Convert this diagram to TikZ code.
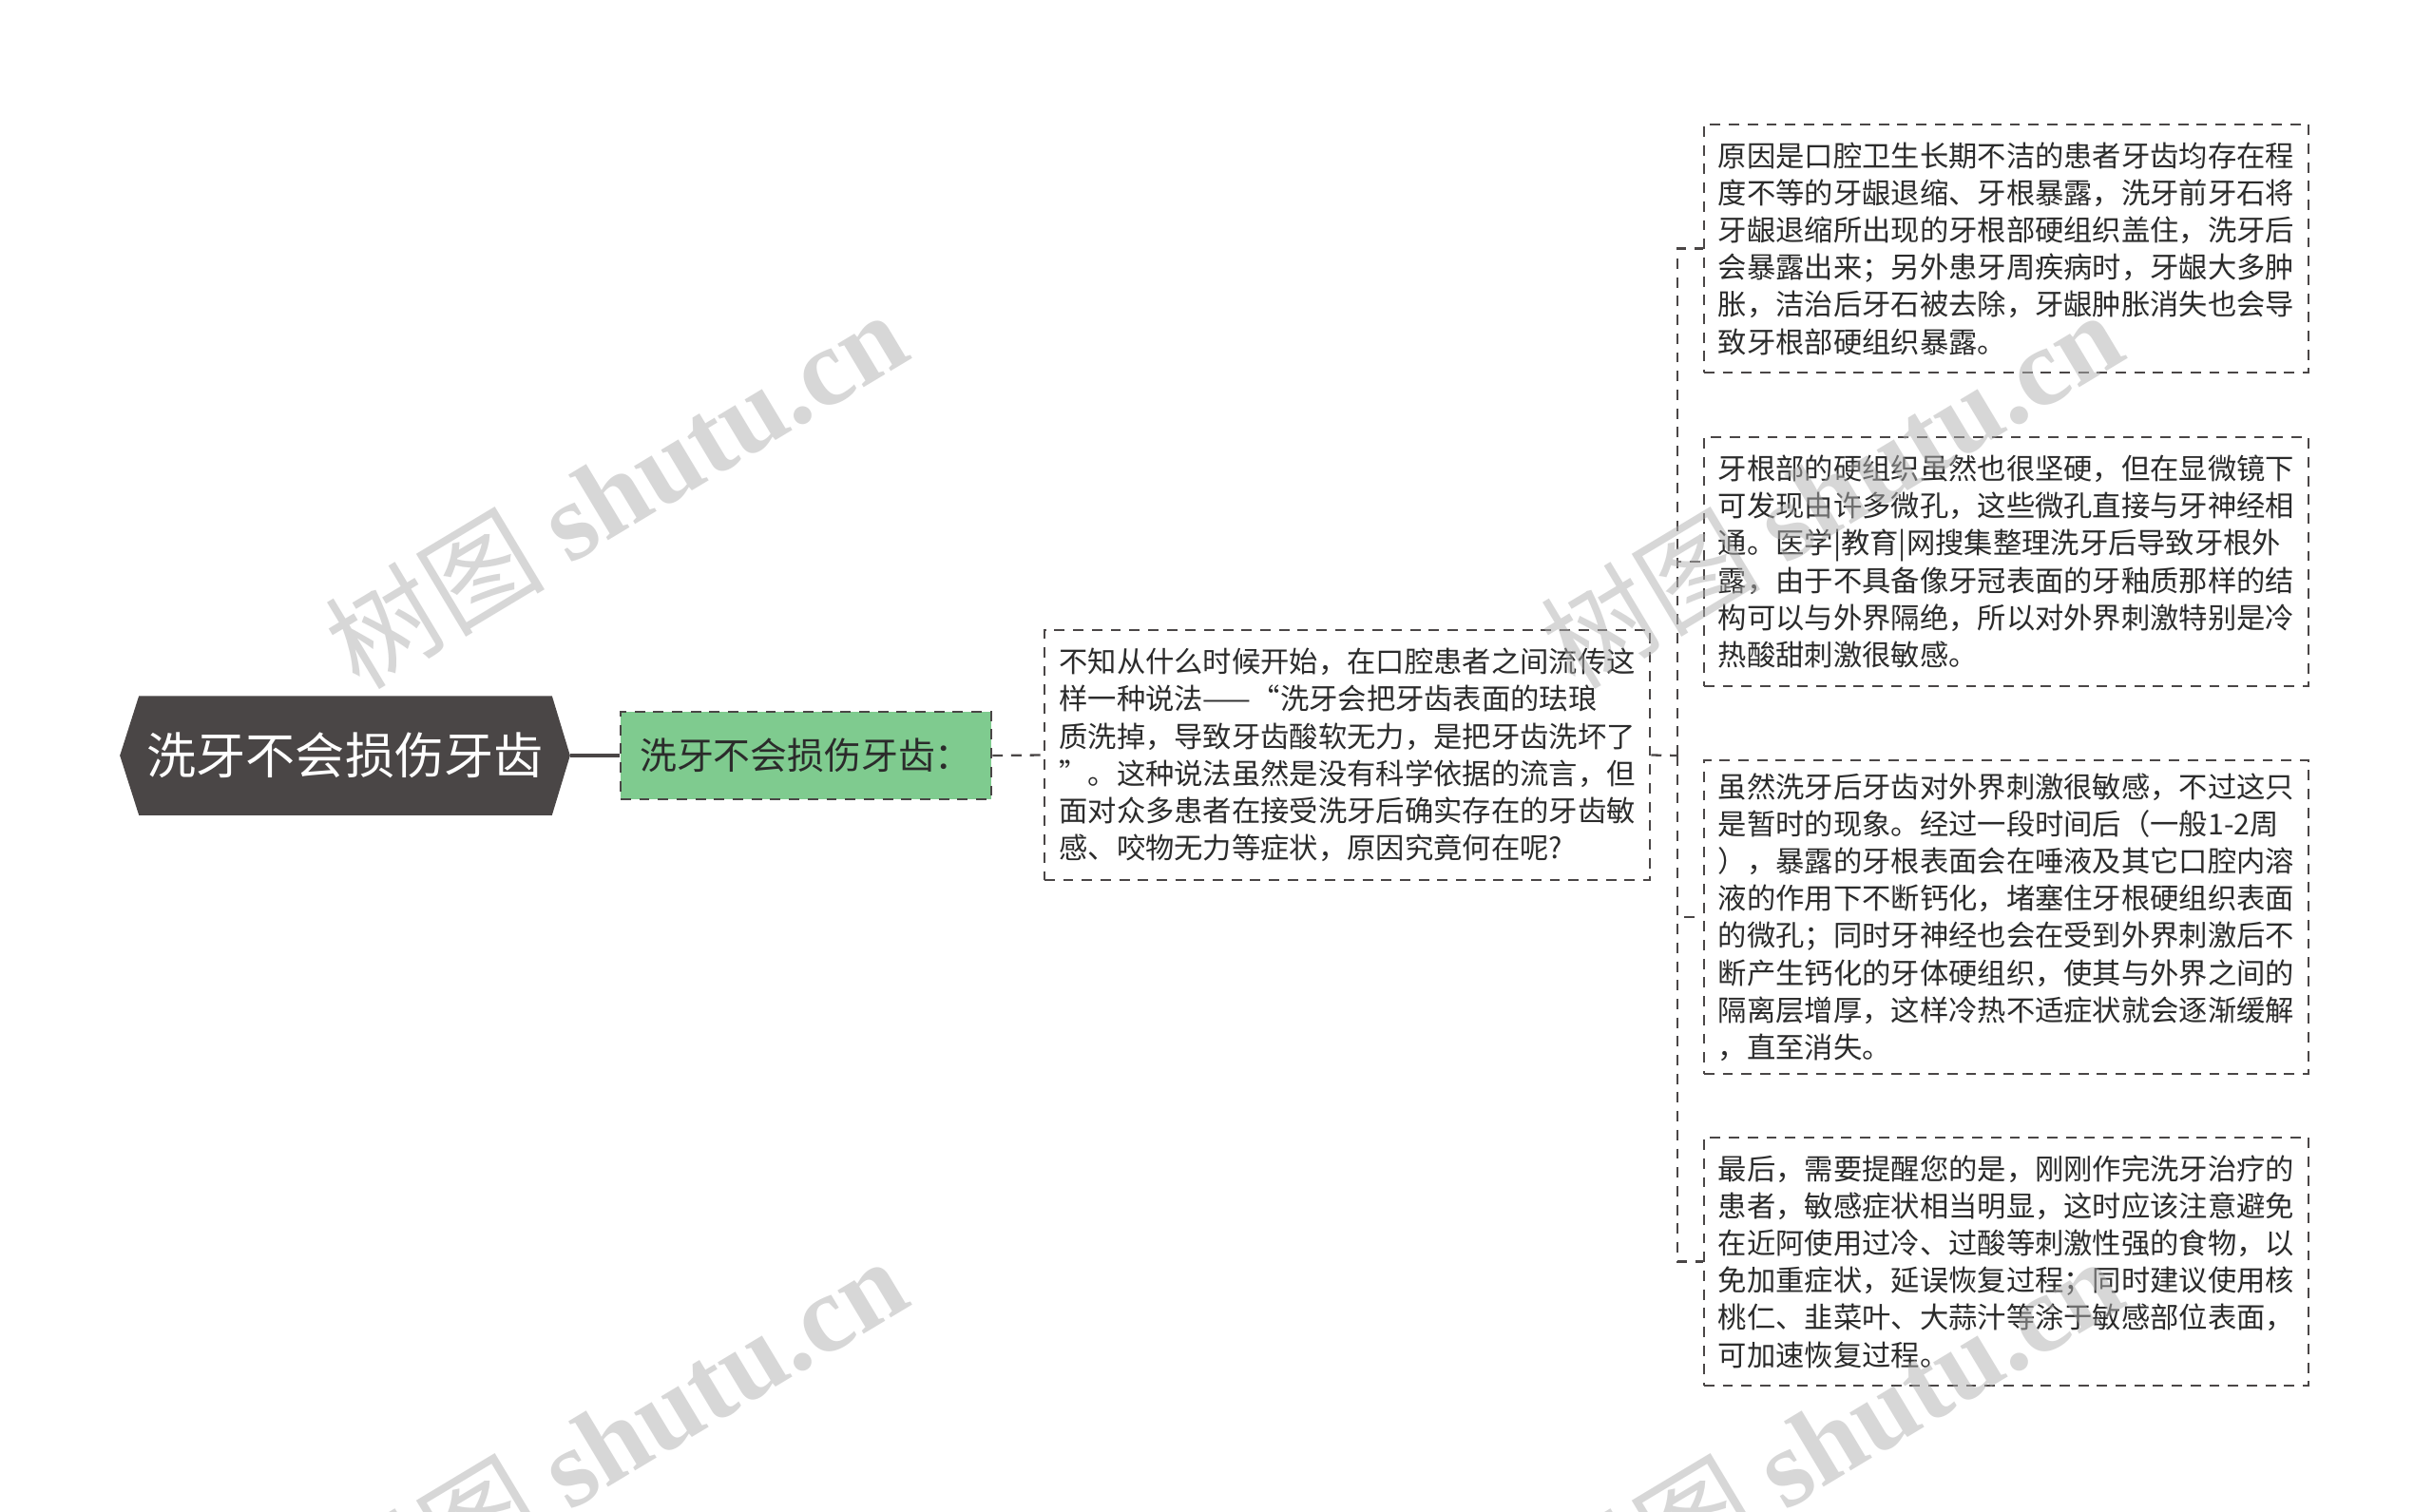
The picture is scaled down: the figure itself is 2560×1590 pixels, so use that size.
\documentclass[tikz,border=0pt]{standalone}
\usepackage{fontspec}
\setmainfont{Noto Sans CJK SC}
\newfontfamily\wmserif{Liberation Serif}
\usetikzlibrary{calc}
\definecolor{rootfill}{HTML}{4A4646}
\definecolor{greenfill}{HTML}{7FCB8F}
\definecolor{linecol}{HTML}{4A4646}
\definecolor{txtcol}{HTML}{2B2B2B}
\definecolor{wmcol}{HTML}{B0B0B0}
\tikzset{
  conn/.style={draw=linecol, line width=0.9pt},
  dconn/.style={draw=linecol, line width=0.65pt, dash pattern=on 3.1pt off 2.5pt},
  textbox/.style={draw=linecol, line width=0.65pt, dash pattern=on 3.1pt off 2.5pt,
    fill=white, inner sep=0pt, text=txtcol, align=left,
    font={\fontsize{8.62}{11.15}\selectfont}},
  greenbox/.style={draw=linecol, line width=0.65pt, dash pattern=on 3.1pt off 2.5pt,
    fill=greenfill, inner sep=0pt, text=txtcol,
    minimum width=3.90cm, minimum height=0.92cm,
    font={\fontsize{11.04}{13}\selectfont}},
  rootbox/.style={inner sep=0pt, text=white, minimum width=4.72cm, minimum height=1.24cm,
    font={\fontsize{14.8}{17}\selectfont}},
  wm/.style={text=wmcol, opacity=0.5, font={\fontsize{33}{36}\selectfont}, inner sep=0pt}
}
\begin{document}
\begin{tikzpicture}[x=0.01cm,y=-0.01cm]
\path[use as bounding box, fill=white] (0,0) rectangle (2560,1590);

% root
\node[rootbox] (root) at (363,795) {洗牙不会损伤牙齿};
\fill[rootfill] (root.west) -- ($(root.north west)+(20,0)$) -- ($(root.north east)+(-19,0)$)
  -- (root.east) -- ($(root.south east)+(-19,0)$) -- ($(root.south west)+(20,0)$) -- cycle;
\node[rootbox] at (root.center) {洗牙不会损伤牙齿};

% level 1
\node[greenbox] (g) at (848,795) {洗牙不会损伤牙齿：};

% middle text box
\node[textbox, minimum width=6.37cm, minimum height=2.63cm] (mid) at (1417.5,794.5) {%
不知从什么时候开始，在口腔患者之间流传这\\
样一种说法——“洗牙会把牙齿表面的珐琅\\
质洗掉，导致牙齿酸软无力，是把牙齿洗坏了\\
”。这种说法虽然是没有科学依据的流言，但\\
面对众多患者在接受洗牙后确实存在的牙齿敏\\
感、咬物无力等症状，原因究竟何在呢?};

% right boxes
\node[textbox, minimum width=6.36cm, minimum height=2.61cm] (b1) at (2111,261.5) {%
原因是口腔卫生长期不洁的患者牙齿均存在程\\
度不等的牙龈退缩、牙根暴露，洗牙前牙石将\\
牙龈退缩所出现的牙根部硬组织盖住，洗牙后\\
会暴露出来；另外患牙周疾病时，牙龈大多肿\\
胀，洁治后牙石被去除，牙龈肿胀消失也会导\\
致牙根部硬组织暴露。};

\node[textbox, minimum width=6.36cm, minimum height=2.62cm] (b2) at (2111,591) {%
牙根部的硬组织虽然也很坚硬，但在显微镜下\\
可发现由许多微孔，这些微孔直接与牙神经相\\
通。医学|教育|网搜集整理洗牙后导致牙根外\\
露，由于不具备像牙冠表面的牙釉质那样的结\\
构可以与外界隔绝，所以对外界刺激特别是冷\\
热酸甜刺激很敏感。};

\node[textbox, minimum width=6.36cm, minimum height=3.30cm] (b3) at (2111,965) {%
虽然洗牙后牙齿对外界刺激很敏感，不过这只\\
是暂时的现象。经过一段时间后（一般1-2周\\
），暴露的牙根表面会在唾液及其它口腔内溶\\
液的作用下不断钙化，堵塞住牙根硬组织表面\\
的微孔；同时牙神经也会在受到外界刺激后不\\
断产生钙化的牙体硬组织，使其与外界之间的\\
隔离层增厚，这样冷热不适症状就会逐渐缓解\\
，直至消失。};

\node[textbox, minimum width=6.36cm, minimum height=2.61cm] (b4) at (2111,1327.5) {%
最后，需要提醒您的是，刚刚作完洗牙治疗的\\
患者，敏感症状相当明显，这时应该注意避免\\
在近阿使用过冷、过酸等刺激性强的食物，以\\
免加重症状，延误恢复过程；同时建议使用核\\
桃仁、韭菜叶、大蒜汁等涂于敏感部位表面，\\
可加速恢复过程。};

% connectors
\draw[conn] (root.east) -- (g.west);
\draw[dconn] (g.east) -- (mid.west);
\coordinate (bus) at (1765,795);
\draw[dconn] (mid.east) -- (bus);
\draw[dconn] (bus) |- (b1.west);
\draw[dconn] (bus) |- (b2.west);
\draw[dconn] (bus) |- (b3.west);
\draw[dconn] (bus) |- (b4.west);

% watermarks
\node[wm, rotate=31] (wm1) at (647,514) {树图 {\wmserif\bfseries shutu.cn}};
\node[wm, rotate=31] (wm2) at (1926,514) {树图 {\wmserif\bfseries shutu.cn}};
\node[wm, rotate=31] (wm3) at (647,1510) {树图 {\wmserif\bfseries shutu.cn}};
\node[wm, rotate=31] (wm4) at (1926,1510) {树图 {\wmserif\bfseries shutu.cn}};
\end{tikzpicture}
\end{document}
